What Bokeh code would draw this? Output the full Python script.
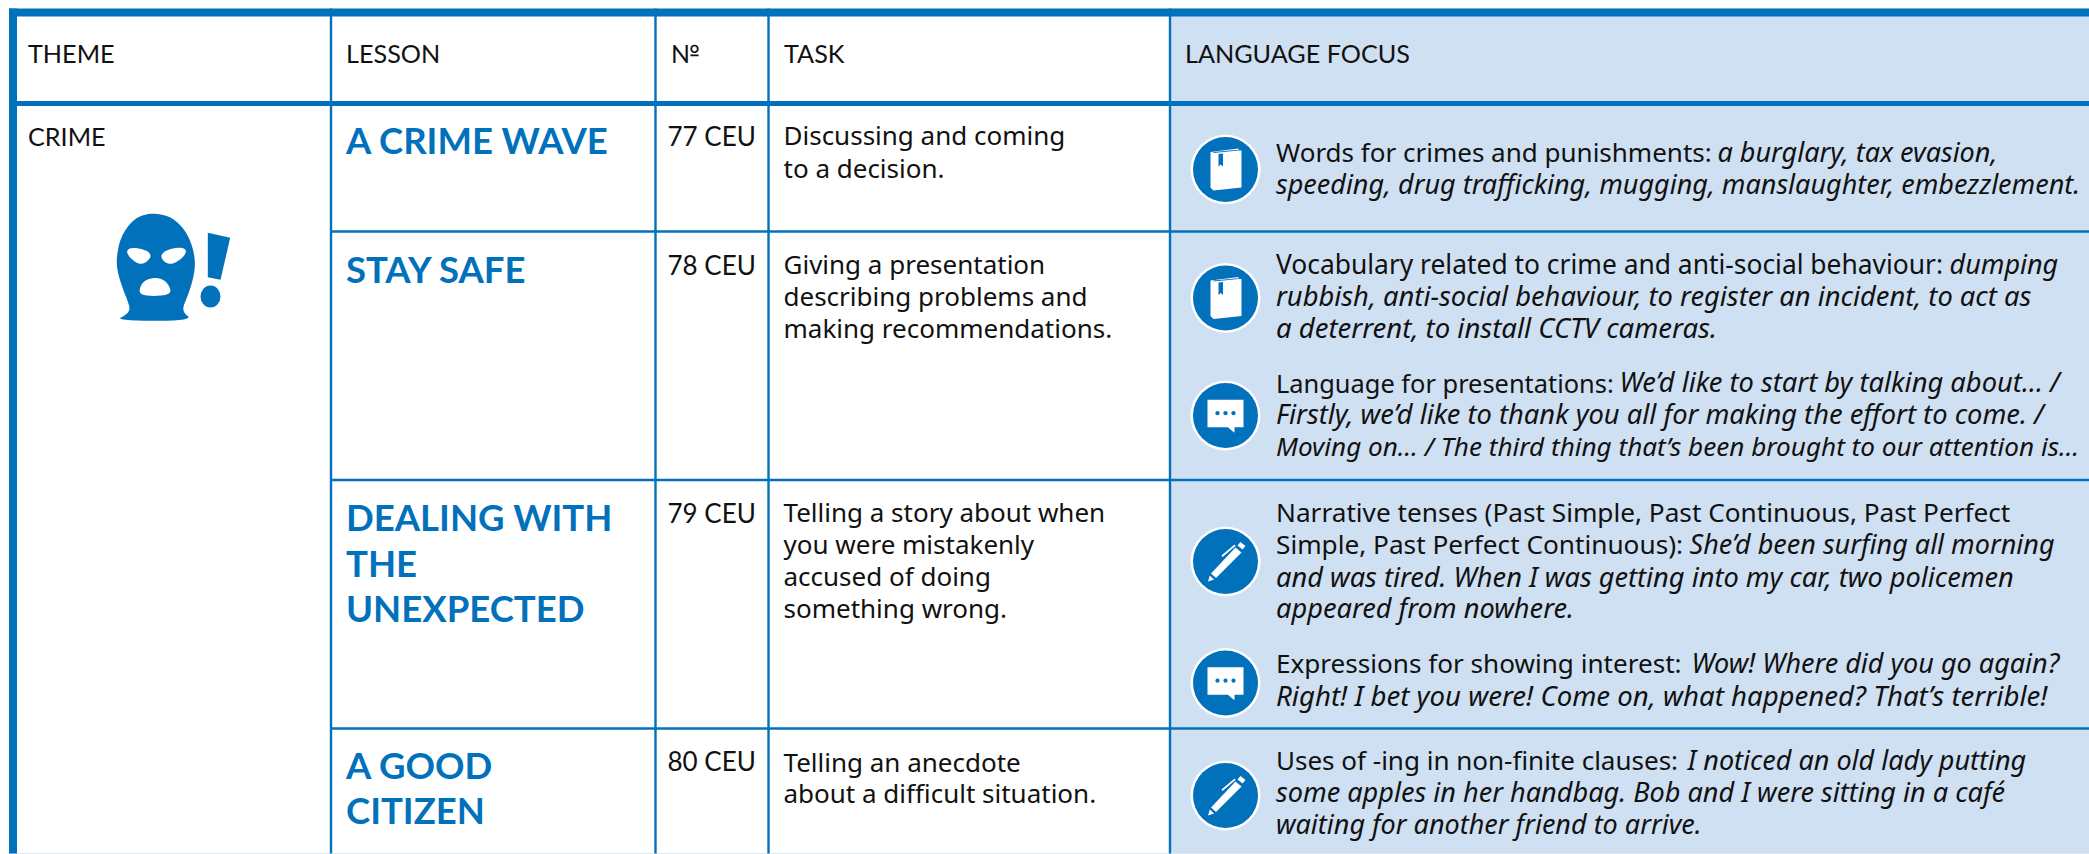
from bokeh.plotting import figure
from bokeh.models import ColumnDataSource, Range1d
from bokeh.core.properties import value
from bokeh.embed import file_html
from bokeh.resources import INLINE

# ---------- content ----------
headers = ["THEME", "LESSON", "№", "TASK", "LANGUAGE FOCUS"]
theme = "CRIME"
lessons = [["A CRIME WAVE"], ["STAY SAFE"], ["DEALING WITH", "THE", "UNEXPECTED"], ["A GOOD", "CITIZEN"]]
numbers = ["77 CEU", "78 CEU", "79 CEU", "80 CEU"]
tasks = [
    ["Discussing and coming", "to a decision."],
    ["Giving a presentation", "describing problems and", "making recommendations."],
    ["Telling a story about when", "you were mistakenly", "accused of doing", "something wrong."],
    ["Telling an anecdote", "about a difficult situation."],
]
focus_plain = [
    "Words for crimes and punishments:",
    "Vocabulary related to crime and anti-social behaviour:",
    "Language for presentations:",
    "Narrative tenses (Past Simple, Past Continuous, Past Perfect",
    "Simple, Past Perfect Continuous):",
    "Expressions for showing interest:",
    "Uses of -ing in non-finite clauses:",
]
focus_italic_inline = [
    "a burglary, tax evasion,",
    "dumping",
    "We’d like to start by talking about… /",
    "She’d been surfing all morning",
    "Wow! Where did you go again?",
    "I noticed an old lady putting",
]
focus_italic_lines = [
    "speeding, drug trafficking, mugging, manslaughter, embezzlement.",
    "rubbish, anti-social behaviour, to register an incident, to act as",
    "a deterrent, to install CCTV cameras.",
    "Firstly, we’d like to thank you all for making the effort to come. /",
    "Moving on… / The third thing that’s been brought to our attention is…",
    "and was tired. When I was getting into my car, two policemen",
    "appeared from nowhere.",
    "Right! I bet you were! Come on, what happened? That’s terrible!",
    "some apples in her handbag. Bob and I were sitting in a café",
    "waiting for another friend to arrive.",
]
icons = ["book", "book", "chat", "pen", "chat", "pen"]

# ---------- layout (page pixels) ----------
BLUE, PALE, INK = "#0271bb", "#cfe0f3", "#111111"
X0, X1, Y0, Y1 = 8.5, 2089, 8, 853
col_lines = [330.5, 655, 768, 1169.5]
row_lines = [231, 479.5, 728]
col_text = [27.5, 345.5, 670, 783.5, 1184.5]
num_x, task_x, focus_x = 667, 783, 1275.5
head_base = 62.5
theme_base = 145.5
lesson_base = [154, 283, 531, 577, 622, 779, 824]
num_base = [146, 275, 523, 771]
task_base = [[145, 178], [274, 306, 338], [522, 554, 586, 618], [772, 803]]
plain_base = [161.5, 274, 392, 522, 554, 673, 770]
plain_size = [26, 26.4, 25.4, 26.2, 26.2, 26.1, 26]
inline_x = [1717, 1949, 1619, 1689, 1691, 1687]
inline_base = [161.5, 274, 392, 554, 673, 770]
inline_size = [27, 27, 27.3, 27, 27, 27]
line_base = [193.5, 306, 338, 424, 456, 586.5, 618, 705.5, 802, 834]
line_size = [27, 27.3, 27.5, 27.3, 26.1, 27.2, 27.2, 27.6, 27.1, 27]
icon_x = 1225
icon_y = [169, 297.5, 415, 561, 682.5, 795]
BODY, CAPS, NUM, HEAD = 26, 25.2, 26, 36.5
BODY_FONT = "Noto Sans"
CAPS_FONT = "Lato"
HEAD_FONT = "Lato"
RISE = 0.39   # Bokeh sets the alphabetic line this fraction of the size below y

p = figure(width=2089, height=854, x_range=Range1d(0, 2089), y_range=Range1d(854, 0),
           output_backend="svg", toolbar_location=None, x_axis_type=None, y_axis_type=None,
           min_border=0, outline_line_color=None, background_fill_color="white")
p.grid.visible = False


def rect(x0, y0, x1, y1, color):
    p.quad(left=[x0], right=[x1], top=[y0], bottom=[y1], fill_color=color, line_color=None)


def label(xs, ys, texts, font=BODY_FONT, size=BODY, style="normal", color=INK):
    src = ColumnDataSource(dict(x=xs, y=[y - RISE * size for y in ys], t=texts))
    p.text("x", "y", text="t", source=src, text_font=value(font), text_font_size=value(f"{size}px"),
           text_font_style=value(style), text_color=color, text_baseline="alphabetic", text_align="left")


def smooth(pts, n=3):
    for _ in range(n):
        out = []
        for i in range(len(pts)):
            a, b = pts[i], pts[(i + 1) % len(pts)]
            out.append((0.75 * a[0] + 0.25 * b[0], 0.75 * a[1] + 0.25 * b[1]))
            out.append((0.25 * a[0] + 0.75 * b[0], 0.25 * a[1] + 0.75 * b[1]))
        pts = out
    return pts


def shape(pts, ox, oy, scale=1.0, color="white"):
    p.patch([ox + q[0] * scale for q in pts], [oy + q[1] * scale for q in pts],
            fill_color=color, line_color=None)


# panel and grid
rect(col_lines[3], Y0, X1, Y1, PALE)
rect(X0, Y1 - 0.5, X1, Y1 + 1, "#dfe8f0")
for x in col_lines:
    rect(x - 1.2, Y0, x + 1.2, Y1, BLUE)
for y in row_lines:
    rect(col_lines[0], y - 1.3, X1, y + 1.3, BLUE)
rect(X0, 8, X1, 16, BLUE)
rect(X0, 100.5, X1, 105.5, BLUE)
rect(X0, 8, 16.5, Y1, BLUE)

# texts
label(col_text, [head_base] * 5, headers, font=CAPS_FONT, size=CAPS)
label([col_text[0]], [theme_base], [theme], font=CAPS_FONT, size=CAPS)
flat_lessons = [t for g in lessons for t in g]
label([col_text[1]] * len(flat_lessons), lesson_base, flat_lessons, font=HEAD_FONT, size=HEAD, style="bold", color=BLUE)
label([num_x] * 4, num_base, numbers, font=CAPS_FONT, size=NUM)
label([task_x] * 11, [b for g in task_base for b in g], [t for g in tasks for t in g])
for t, b, s in zip(focus_plain, plain_base, plain_size):
    label([focus_x], [b], [t], size=s)
for t, x, b, s in zip(focus_italic_inline, inline_x, inline_base, inline_size):
    label([x], [b], [t], size=s, style="italic")
for t, b, s in zip(focus_italic_lines, line_base, line_size):
    label([focus_x], [b], [t], size=s, style="italic")

# mask icon (units: zoom px / 3 from its own origin)
MX, MY, MS = 105, 200, 1 / 3
head = [(150, 38), (200, 50), (240, 90), (262, 140), (270, 190), (262, 240), (245, 290), (232, 320), (236, 338),
        (256, 354), (200, 361), (100, 361), (36, 356), (58, 345), (73, 330), (70, 310), (50, 260), (35, 210),
        (33, 170), (45, 110), (80, 60), (115, 42)]
eye_l = [(63, 148), (85, 140), (125, 150), (138, 165), (125, 184), (105, 192), (85, 182), (68, 165)]
eye_r = [(165, 165), (180, 150), (215, 140), (243, 145), (238, 165), (215, 184), (195, 192), (175, 184)]
mouth = [(100, 268), (115, 240), (150, 230), (180, 240), (197, 268), (190, 282), (150, 287), (108, 284)]
bang = [(307, 97), (374, 112), (345, 238), (307, 230)]
shape(smooth(head, 2), MX, MY, MS, BLUE)
for h in (eye_l, eye_r, mouth):
    shape(smooth(h, 2), MX, MY, MS, "white")
shape(bang, MX, MY, MS, BLUE)
p.ellipse([MX + 315 * MS], [MY + 288 * MS], width=[20], height=[22], fill_color=BLUE, line_color=None)

# language-focus icons
book = [(-15, -17.5), (13, -21), (13, -19), (16, -19), (16, 18), (-12, 21), (-15, 18)]
lip = [(-12, -17.5), (13, -19.7), (13, -18.9), (-12, -16.5)]
mark = [(-7, -15.5), (-2.5, -16), (-2.5, -3), (-4.7, -5), (-7, -3)]
bubble = [(-18, -15.7), (18, -15.7), (18, 11.7), (9, 11.7), (9, 17.3), (2.3, 11.7), (-18, 11.7)]
barrel = [(-14.5, 12), (10, -14), (16, -9), (-9.5, 16.5)]
nib = [(-15.7, 14), (-11.5, 18), (-17.5, 20)]
click = [(12, -16), (15, -19.5), (20, -15.5), (17, -12)]
clip = [(-4, -6), (9, -17), (10, -15.5), (-3, -4.5)]

p.circle([icon_x] * 6, icon_y, radius=35, fill_color="white", line_color=None)
p.circle([icon_x] * 6, icon_y, radius=32.5, fill_color=BLUE, line_color=None)
for kind, cy in zip(icons, icon_y):
    if kind == "book":
        shape(book, icon_x, cy)
        shape(lip, icon_x, cy, color=BLUE)
        shape(mark, icon_x, cy, color=BLUE)
    elif kind == "chat":
        shape(bubble, icon_x, cy)
        p.circle([icon_x - 8, icon_x, icon_x + 8], [cy - 2.3] * 3, radius=2.1, fill_color=BLUE, line_color=None)
    else:
        for part in (barrel, nib, click, clip):
            shape(part, icon_x, cy)

open("out.html", "w").write(file_html(p, INLINE))
